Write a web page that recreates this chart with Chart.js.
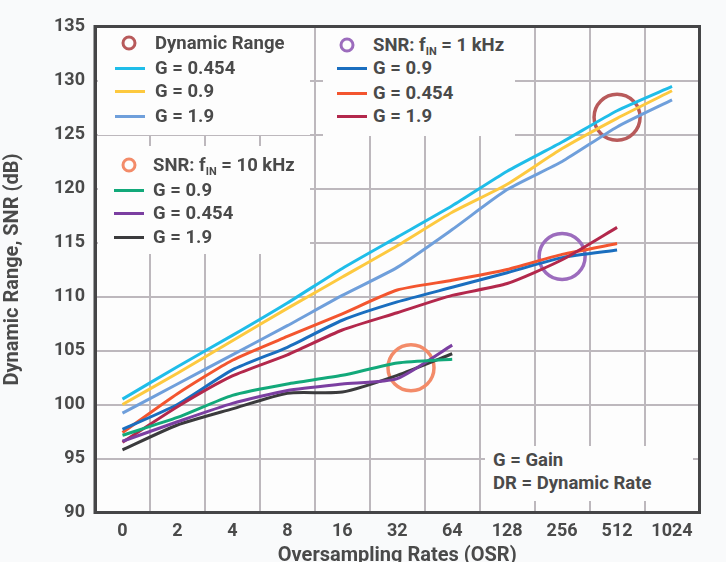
<!DOCTYPE html>
<html>
<head>
<meta charset="utf-8">
<script src="https://cdn.jsdelivr.net/npm/chart.js@4.4.1/dist/chart.umd.min.js"></script>
<style>
  body { margin: 0; background: #f9fafb; }
  #wrap { position: relative; width: 726px; height: 562px; font-family: Roboto, "DejaVu Sans", sans-serif; font-weight: 700; color: #4a4a4a; }
  .box { position: absolute; background: #fdfdfd; }
  .t { position: absolute; font-size: 18.5px; line-height: 20px; white-space: nowrap; transform: translateY(-50%); }
  .sw { position: absolute; height: 3px; width: 30px; margin-top: -1.5px; }
  .ci { position: absolute; width: 9px; height: 9px; border: 3px solid; border-radius: 50%; transform: translate(-50%, -50%); }
  sub { font-size: 11px; vertical-align: -4px; line-height: 0; }
</style>
</head>
<body>
<div id="wrap">
  <canvas id="chart" width="726" height="562"></canvas>
</div>
<script>
// x categories (oversampling rates)
const osrLabels = ['0', '2', '4', '8', '16', '32', '64', '128', '256', '512', '1024'];

// Dynamic range
const drG0454 = [100.5, 103.5, 106.4, 109.4, 112.6, 115.5, 118.4, 121.6, 124.3, 127.2, 129.45];
const drG09   = [100.0, 102.9, 105.9, 108.9, 111.8, 114.7, 117.8, 120.4, 123.7, 126.5, 129.05];
const drG19   = [99.2, 101.9, 104.6, 107.3, 110.1, 112.7, 116.2, 119.9, 122.5, 125.7, 128.2];

// SNR, fIN = 1 kHz
const snr1kG09   = [97.7, 100.0, 103.2, 105.3, 107.8, 109.5, 110.85, 112.2, 113.6, 114.3, null];
const snr1kG0454 = [97.4, 101.0, 104.1, 106.3, 108.4, 110.6, 111.5, 112.5, 113.9, 114.9, null];
const snr1kG19   = [96.5, 99.8, 102.65, 104.6, 106.9, 108.5, 110.1, 111.2, 113.4, 116.4, null];

// SNR, fIN = 10 kHz
const snr10kG09   = [97.15, 98.8, 100.85, 101.9, 102.7, 103.85, 104.2];
const snr10kG0454 = [96.6, 98.4, 100.1, 101.3, 101.9, 102.4, 105.5];
const snr10kG19   = [95.8, 98.1, 99.6, 101.05, 101.15, 102.7, 104.7];

// highlight circles: [category position, dB]
const circleDR = [{ x: 9.0, y: 126.6 }];
const circle1k = [{ x: 8.0, y: 113.7 }];
const circle10k = [{ x: 5.25, y: 103.4 }];

const C = {
    cyan: '#1fbde9', yellow: '#fdc93f', ltblue: '#6f9fdb',
    blue: '#1a6ebf', orange: '#f3552f', crimson: '#b3284c',
    green: '#12a97a', purple: '#7b3fa1', black: '#3b3b3d',
    cDR: '#b85a5b', c1k: '#9c6cbd', c10k: '#f38b69'
};

function line(label, data, color) {
    return { type: 'line', label: label, data: data, borderColor: color, backgroundColor: color,
             borderWidth: 3, pointRadius: 0, tension: 0.2, spanGaps: false };
}
function ring(label, data, color) {
    return { type: 'scatter', label: label, data: data, xAxisID: 'xc', borderColor: color,
             backgroundColor: 'rgba(0,0,0,0)', pointRadius: 23, pointBorderWidth: 3.5, pointHoverRadius: 23 };
}

const datasets = [
    line('SNR 10k G = 0.9', snr10kG09, C.green),
    line('SNR 10k G = 0.454', snr10kG0454, C.purple),
    line('SNR 10k G = 1.9', snr10kG19, C.black),
    line('SNR 1k G = 1.9', snr1kG19, C.crimson),
    line('SNR 1k G = 0.9', snr1kG09, C.blue),
    line('SNR 1k G = 0.454', snr1kG0454, C.orange),
    line('DR G = 1.9', drG19, C.ltblue),
    line('DR G = 0.9', drG09, C.yellow),
    line('DR G = 0.454', drG0454, C.cyan),
    ring('DR', circleDR, C.cDR),
    ring('SNR 1k', circle1k, C.c1k),
    ring('SNR 10k', circle10k, C.c10k)
];

const tickFont = { family: 'Roboto, "DejaVu Sans", sans-serif', size: 18, weight: 'bold' };
const titleFont = { family: 'Roboto, "DejaVu Sans", sans-serif', size: 20, weight: 'bold', lineHeight: 1 };

// plot background + full frame
const frame = {
    id: 'frame',
    beforeDraw(chart) {
        const a = chart.chartArea, c = chart.ctx;
        c.save();
        c.fillStyle = '#fdfdfd';
        c.fillRect(a.left, a.top, a.right - a.left, a.bottom - a.top);
        c.restore();
    },
    beforeDatasetsDraw(chart) {
        const a = chart.chartArea, c = chart.ctx;
        c.save();
        c.strokeStyle = '#454547';
        c.lineWidth = 3;
        c.strokeRect(a.left, a.top, a.right - a.left, a.bottom - a.top);
        c.restore();
    }
};

const chart = new Chart(document.getElementById('chart'), {
    type: 'line',
    data: { labels: osrLabels, datasets: datasets },
    options: {
        responsive: false,
        animation: false,
        devicePixelRatio: 1,
        layout: { padding: { top: 25, right: 16, left: 0, bottom: 0 } },
        plugins: { legend: { display: false }, tooltip: { enabled: false } },
        scales: {
            x: {
                type: 'category',
                offset: true,
                grid: { offset: true, color: '#bdb8bd', lineWidth: 2, drawTicks: false },
                border: { color: '#454547', width: 3 },
                ticks: { padding: 8, color: '#4a4a4a', font: tickFont, autoSkip: false, maxRotation: 0 },
                title: { display: true, text: 'Oversampling Rates (OSR)', color: '#4a4a4a', font: titleFont, padding: { top: 0, bottom: -4 } },
                afterFit(s) { s.height = 49.5; }
            },
            xc: { type: 'linear', min: -0.5, max: 10.5, display: false },
            y: {
                min: 90, max: 135,
                grid: { color: '#bdb8bd', lineWidth: 2, drawTicks: false },
                border: { color: '#454547', width: 3 },
                ticks: { stepSize: 5, padding: 10, color: '#4a4a4a', font: tickFont },
                title: { display: true, text: 'Dynamic Range, SNR (dB)', color: '#4a4a4a', font: titleFont, padding: { top: 2.5, bottom: 0 } },
                afterFit(s) { s.width = 95; }
            }
        }
    },
    plugins: [frame]
});

// legend, built as html over the plot
const wrap = document.getElementById('wrap');
function add(cls, css, html) {
    const d = document.createElement('div');
    d.className = cls;
    Object.assign(d.style, css);
    if (html) d.innerHTML = html;
    wrap.appendChild(d);
    return d;
}

add('box', { left: '98px', top: '28px', width: '212px', height: '107px' });
add('box', { left: '98px', top: '146px', width: '212px', height: '108px' });
add('box', { left: '323px', top: '28px', width: '192px', height: '108px' });
add('box', { left: '485px', top: '446px', width: '208px', height: '55px' });

const groups = [
    { title: 'Dynamic Range', ring: C.cDR, cx: 129, cy: 43, sx: 115, tx: 155,
      rows: [['G = 0.454', C.cyan, 68], ['G = 0.9', C.yellow, 91], ['G = 1.9', C.ltblue, 116]] },
    { title: 'SNR: f<sub>IN</sub> = 10 kHz', ring: C.c10k, cx: 129, cy: 165, sx: 114, tx: 153,
      rows: [['G = 0.9', C.green, 190], ['G = 0.454', C.purple, 213], ['G = 1.9', C.black, 237]] },
    { title: 'SNR: f<sub>IN</sub> = 1 kHz', ring: C.c1k, cx: 347, cy: 45, sx: 337, tx: 373,
      rows: [['G = 0.9', C.blue, 68], ['G = 0.454', C.orange, 93], ['G = 1.9', C.crimson, 116]] }
];
groups.forEach(g => {
    add('ci', { left: g.cx + 'px', top: g.cy + 'px', borderColor: g.ring });
    add('t', { left: g.tx + 'px', top: g.cy + 'px' }, g.title);
    g.rows.forEach(r => {
        add('sw', { left: g.sx + 'px', top: r[2] + 'px', background: r[1] });
        add('t', { left: g.tx + 'px', top: r[2] + 'px' }, r[0]);
    });
});

add('t', { left: '493px', top: '460px' }, 'G = Gain');
add('t', { left: '493px', top: '483px' }, 'DR = Dynamic Rate');
</script>
</body>
</html>
